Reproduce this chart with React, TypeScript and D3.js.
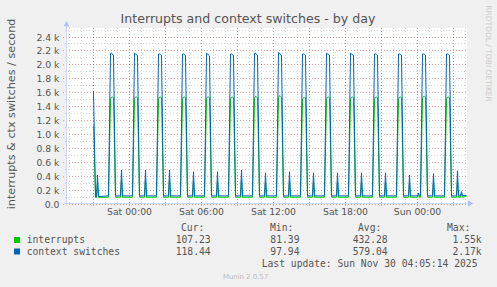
import React from "react";
import * as d3 from "d3";

// ---- data (minutes relative to Sat Nov 29 2025 00:00 UTC, values in thousands / s) ----
const sampleMinutes = [
  -175, -165, -160, -155, -150,
  -100, -90, -85, -80, -75, -65, -40, -35, -30,
  20, 30, 35, 40, 45, 55, 80, 85, 90,
  140, 150, 155, 160, 165, 175, 200, 205, 210,
  260, 270, 275, 280, 285, 295, 320, 325, 330,
  380, 390, 395, 400, 405, 415, 440, 445, 450,
  500, 510, 515, 520, 525, 535, 560, 565, 570,
  620, 630, 635, 640, 645, 655, 680, 685, 690,
  740, 750, 755, 760, 765, 775, 800, 805, 810,
  860, 870, 875, 880, 885, 895, 920, 925, 930,
  980, 990, 995, 1000, 1005, 1015, 1040, 1045, 1050,
  1100, 1110, 1115, 1120, 1125, 1135, 1160, 1165, 1170,
  1220, 1230, 1235, 1240, 1245, 1255, 1280, 1285, 1290,
  1340, 1350, 1355, 1360, 1365, 1375, 1400, 1405, 1410,
  1445, 1450, 1455,
  1460, 1470, 1475, 1480, 1485, 1495, 1520, 1525, 1530,
  1580, 1590, 1595, 1600, 1605, 1615, 1640, 1645, 1650,
  1660, 1665, 1670, 1690,
];

const contextSwitches = [
  1.62, 0.1, 0.1, 0.41, 0.1,
  0.11, 2.16, 2.16, 2.15, 2.13, 0.11, 0.11, 0.48, 0.11,
  0.11, 2.16, 2.15, 2.14, 2.12, 0.11, 0.11, 0.48, 0.11,
  0.11, 2.15, 2.15, 2.14, 2.13, 0.11, 0.11, 0.48, 0.11,
  0.11, 2.15, 2.15, 2.14, 2.12, 0.11, 0.11, 0.455, 0.11,
  0.11, 2.16, 2.15, 2.13, 2.12, 0.11, 0.11, 0.455, 0.11,
  0.11, 2.15, 2.15, 2.14, 2.12, 0.11, 0.11, 0.48, 0.11,
  0.11, 2.16, 2.16, 2.14, 2.13, 0.11, 0.11, 0.44, 0.11,
  0.11, 2.17, 2.16, 2.14, 2.12, 0.11, 0.11, 0.455, 0.11,
  0.11, 2.15, 2.15, 2.14, 2.13, 0.11, 0.11, 0.44, 0.11,
  0.11, 2.16, 2.15, 2.14, 2.13, 0.11, 0.11, 0.44, 0.11,
  0.11, 2.16, 2.15, 2.14, 2.12, 0.11, 0.11, 0.44, 0.11,
  0.11, 2.15, 2.15, 2.14, 2.13, 0.11, 0.11, 0.44, 0.11,
  0.11, 2.15, 2.15, 2.14, 2.13, 0.11, 0.11, 0.41, 0.11,
  0.11, 0.15, 0.11,
  0.11, 2.15, 2.15, 2.14, 2.13, 0.11, 0.11, 0.43, 0.11,
  0.11, 2.15, 2.15, 2.14, 2.13, 0.11, 0.11, 0.47, 0.11,
  0.11, 0.17, 0.11, 0.118,
];

const interrupts = [
  1.12, 0.088, 0.088, 0.3, 0.088,
  0.09, 1.5, 1.53, 1.53, 1.52, 0.09, 0.09, 0.34, 0.09,
  0.09, 1.51, 1.53, 1.53, 1.52, 0.09, 0.09, 0.34, 0.09,
  0.09, 1.5, 1.53, 1.53, 1.52, 0.09, 0.09, 0.34, 0.09,
  0.09, 1.5, 1.53, 1.53, 1.52, 0.09, 0.09, 0.32, 0.09,
  0.09, 1.51, 1.53, 1.53, 1.52, 0.09, 0.09, 0.32, 0.09,
  0.09, 1.5, 1.53, 1.53, 1.52, 0.09, 0.09, 0.34, 0.09,
  0.09, 1.51, 1.54, 1.53, 1.52, 0.09, 0.09, 0.31, 0.09,
  0.09, 1.52, 1.55, 1.54, 1.53, 0.09, 0.09, 0.32, 0.09,
  0.09, 1.5, 1.52, 1.52, 1.52, 0.09, 0.09, 0.31, 0.09,
  0.09, 1.5, 1.53, 1.53, 1.52, 0.09, 0.09, 0.31, 0.09,
  0.09, 1.5, 1.53, 1.53, 1.52, 0.09, 0.09, 0.31, 0.09,
  0.09, 1.5, 1.53, 1.53, 1.52, 0.09, 0.09, 0.31, 0.09,
  0.09, 1.5, 1.53, 1.53, 1.52, 0.09, 0.09, 0.29, 0.09,
  0.09, 0.13, 0.09,
  0.09, 1.51, 1.54, 1.54, 1.53, 0.09, 0.09, 0.3, 0.09,
  0.09, 1.5, 1.53, 1.53, 1.52, 0.09, 0.09, 0.33, 0.09,
  0.09, 0.15, 0.09, 0.107,
];

const yMajorTicks = [0, 0.2, 0.4, 0.6, 0.8, 1.0, 1.2, 1.4, 1.6, 1.8, 2.0, 2.2, 2.4];
const yTickLabels = ["0.0", "0.2 k", "0.4 k", "0.6 k", "0.8 k", "1.0 k", "1.2 k", "1.4 k", "1.6 k", "1.8 k", "2.0 k", "2.2 k", "2.4 k"];
const yMinorTicks = [0.1, 0.3, 0.5, 0.7, 0.9, 1.1, 1.3, 1.5, 1.7, 1.9, 2.1, 2.3, 2.5];

const legendNames = ["interrupts", "context switches"];
const legendCur = ["107.23", "118.44"];
const legendMin = ["81.39", "97.94"];
const legendAvg = ["432.28", "579.04"];
const legendMax = ["1.55k", "2.17k"];
const seriesColors = ["#00CC00", "#0066B3"];

const TITLE = "Interrupts and context switches - by day";
const Y_LABEL = "interrupts & ctx switches / second";
const LAST_UPDATE = "Last update: Sun Nov 30 04:05:14 2025";

const W = 497;
const H = 287;

export default function App() {
  const t0 = Date.UTC(2025, 10, 29, 0, 0, 0);
  const HOUR = 3600 * 1000;
  const x = d3
    .scaleUtc()
    .domain([new Date(t0 - 5.125 * HOUR), new Date(t0 + 28.2083 * HOUR)])
    .range([67, 467]);
  const y = d3.scaleLinear().domain([0, 2.515]).range([203.5, 28.5]);

  const pts = (vals: number[]) =>
    sampleMinutes.map((m, i) => [new Date(t0 + m * 60000), vals[i]] as [Date, number]);
  const line = d3
    .line<[Date, number]>()
    .x((d) => x(d[0]))
    .y((d) => y(d[1]));

  const [d0, d1] = x.domain();
  const minorX = d3.utcHour.every(1)!.range(d0, d1);
  const majorX = d3.utcHour.every(3)!.range(d0, d1);
  const labelX = d3.utcHour.every(6)!.range(d0, d1);
  const fmt = d3.utcFormat("%a %H:%M");

  const gridMinor = "rgba(140,140,140,0.35)";
  const gridMajor = "rgba(200,60,60,0.45)";
  const axisColor = "#CFD6F8";
  const arrowColor = "#B4C0F4";
  const fontColor = "#555555";
  const sans = "'DejaVu Sans', sans-serif";
  const mono = "'DejaVu Sans Mono', monospace";

  return (
    <svg width={W} height={H} style={{ display: "block", position: "absolute", left: 0, top: 0 }}>
      <rect x={0} y={0} width={W} height={H} fill="#F0F0F0" />
      <rect x={67} y={28} width={400} height={176} fill="#FFFFFF" />

      {/* minor grid */}
      {yMinorTicks.map((v) => (
        <line key={"ym" + v} x1={65} x2={467} y1={Math.round(y(v)) + 0.5} y2={Math.round(y(v)) + 0.5}
          stroke={gridMinor} strokeDasharray="1,2" />
      ))}
      {minorX.map((d) => (
        <line key={"xm" + +d} x1={Math.round(x(d)) + 0.5} x2={Math.round(x(d)) + 0.5} y1={28} y2={205}
          stroke={gridMinor} strokeDasharray="1,2" />
      ))}
      {/* major grid */}
      {yMajorTicks.map((v) => (
        <line key={"yM" + v} x1={63} x2={467} y1={Math.round(y(v)) + 0.5} y2={Math.round(y(v)) + 0.5}
          stroke={gridMajor} strokeDasharray="1,2" />
      ))}
      {majorX.map((d) => (
        <line key={"xM" + +d} x1={Math.round(x(d)) + 0.5} x2={Math.round(x(d)) + 0.5} y1={28} y2={207}
          stroke={gridMajor} strokeDasharray="1,2" />
      ))}

      {/* series */}
      <path d={line(pts(interrupts)) || ""} fill="none" stroke={seriesColors[0]} strokeWidth={1} />
      <path d={line(pts(contextSwitches)) || ""} fill="none" stroke={seriesColors[1]} strokeWidth={1} />

      {/* axes */}
      <line x1={64} x2={470} y1={203.5} y2={203.5} stroke={axisColor} />
      <line x1={66.5} x2={66.5} y1={206} y2={25} stroke={axisColor} />
      <path d="M468,200.5 L468,206.5 L473.5,203.5 Z" fill={arrowColor} />
      <path d="M63.5,26.5 L69.5,26.5 L66.5,21 Z" fill={arrowColor} />

      {/* y tick labels */}
      {yMajorTicks.map((v, i) => (
        <text key={"yl" + v} x={59.5} y={Math.round(y(v)) + 0.5 + 3.4} textAnchor="end"
          fontFamily={sans} fontSize={9.3} fill={fontColor}>
          {yTickLabels[i]}
        </text>
      ))}
      {/* x tick labels */}
      {labelX.map((d) => (
        <text key={"xl" + +d} x={Math.round(x(d)) + 0.5} y={215.2} textAnchor="middle"
          fontFamily={sans} fontSize={9.3} fill={fontColor}>
          {fmt(d)}
        </text>
      ))}

      {/* title */}
      <text x={248} y={23.2} textAnchor="middle" fontFamily={sans} fontSize={12.6} fill={fontColor}>
        {TITLE}
      </text>
      {/* y label */}
      <text transform="translate(14.5,114) rotate(-90)" textAnchor="middle" fontFamily={sans}
        fontSize={11.2} fill={fontColor}>
        {Y_LABEL}
      </text>
      {/* watermark */}
      <text transform="translate(486,53.5) rotate(90)" textAnchor="middle" fontFamily={sans}
        fontSize={7.5} fill="#CCCCCC">
        RRDTOOL / TOBI OETIKER
      </text>

      {/* legend */}
      <g fontFamily={mono} fontSize={9.7} fill={fontColor}>
        <text x={181} y={230.8}>Cur:</text>
        <text x={270} y={230.8}>Min:</text>
        <text x={358} y={230.8}>Avg:</text>
        <text x={447} y={230.8}>Max:</text>
        {legendNames.map((n, i) => {
          const by = 243.2 + i * 11.4;
          return (
            <g key={n}>
              <rect x={14} y={237 + i * 11.5} width={6} height={6} fill={seriesColors[i]} />
              <text x={26.7} y={by}>{n}</text>
              <text x={210.7} y={by} textAnchor="end">{legendCur[i]}</text>
              <text x={299.5} y={by} textAnchor="end">{legendMin[i]}</text>
              <text x={387.7} y={by} textAnchor="end">{legendAvg[i]}</text>
              <text x={481.7} y={by} textAnchor="end">{legendMax[i]}</text>
            </g>
          );
        })}
        <text x={261.7} y={266.8}>{LAST_UPDATE}</text>
      </g>
      <text x={245.5} y={278.5} textAnchor="middle" fontFamily={sans} fontSize={6.9} fill="#BBBBBB">
        Munin 2.0.57
      </text>
    </svg>
  );
}
